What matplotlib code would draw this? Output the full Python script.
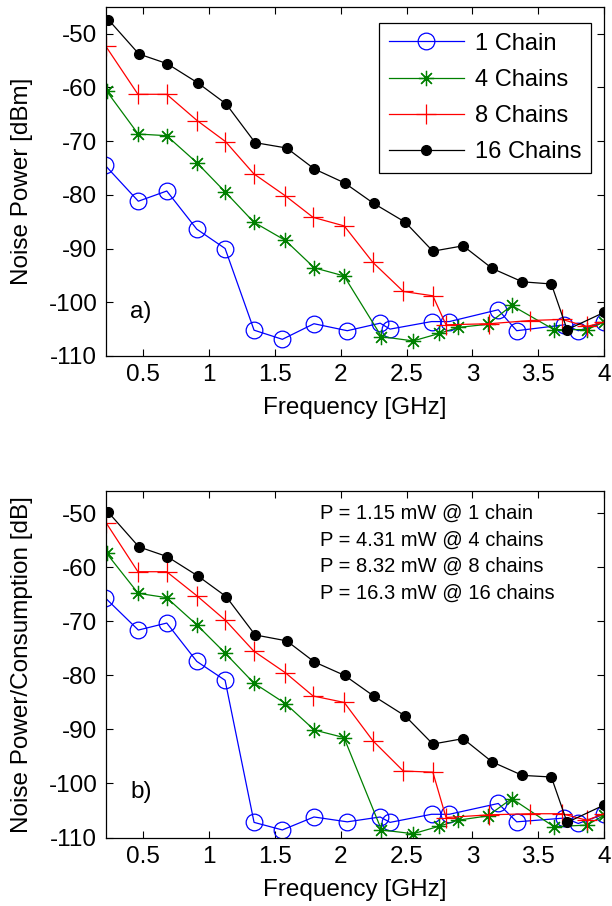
import matplotlib
matplotlib.use("Agg")
import matplotlib.pyplot as plt

plt.rcParams['font.family'] = ['Liberation Sans', 'DejaVu Sans']
plt.rcParams['axes.unicode_minus'] = False

# ---------------- data: top panel (Noise Power [dBm]) ----------------
x1_a = [0.21, 0.463, 0.679, 0.907, 1.122, 1.342, 1.557, 1.797, 2.05, 2.30, 2.375, 2.69, 2.825, 3.197, 3.337, 3.70, 3.805, 4.0]
y1_a = [-74.5, -81.2, -79.3, -86.4, -90.0, -105.2, -106.9, -104.0, -105.3, -103.9, -105.0, -103.6, -103.6, -101.4, -105.3, -104.2, -105.3, -103.7]

x4_a = [0.222, 0.462, 0.678, 0.906, 1.12, 1.34, 1.58, 1.80, 2.025, 2.31, 2.55, 2.75, 2.89, 3.117, 3.30, 3.62, 3.87, 4.0]
y4_a = [-60.7, -68.7, -69.0, -74.0, -79.4, -85.1, -88.5, -93.6, -95.1, -106.4, -107.2, -105.8, -104.7, -104.1, -100.6, -105.1, -105.1, -103.7]

x8_a = [0.217, 0.46, 0.678, 0.91, 1.125, 1.34, 1.58, 1.79, 2.027, 2.245, 2.476, 2.70, 2.80, 3.13, 3.44, 3.68, 3.87, 4.0]
y8_a = [-52.4, -61.3, -61.3, -66.2, -70.1, -76.1, -80.2, -84.2, -85.8, -92.6, -98.0, -98.8, -104.2, -104.0, -103.4, -103.2, -104.5, -103.7]

x16_a = [0.235, 0.467, 0.682, 0.916, 1.13, 1.35, 1.59, 1.80, 2.03, 2.25, 2.49, 2.70, 2.93, 3.15, 3.38, 3.60, 3.72, 4.0]
y16_a = [-47.4, -53.8, -55.6, -59.2, -63.1, -70.3, -71.3, -75.2, -77.8, -81.6, -85.1, -90.5, -89.5, -93.7, -96.2, -96.6, -105.1, -101.9]

# ---------------- data: bottom panel (Noise Power/Consumption [dB]) ----------------
y1_b = [-65.6, -71.6, -70.3, -77.4, -80.9, -107.2, -108.6, -106.2, -107.1, -106.2, -107.2, -105.7, -105.7, -103.7, -107.1, -106.4, -107.4, -105.7]
y4_b = [-57.4, -64.8, -65.6, -70.6, -75.8, -81.4, -85.2, -90.1, -91.5, -108.6, -109.3, -107.9, -106.8, -106.0, -102.8, -108.0, -107.7, -105.9]
y8_b = [-51.7, -60.8, -60.8, -65.3, -69.8, -75.5, -79.5, -83.8, -85.0, -92.1, -97.7, -97.9, -106.3, -105.8, -105.6, -105.6, -106.8, -105.6]
y16_b = [-49.8, -56.2, -58.0, -61.6, -65.4, -72.5, -73.6, -77.5, -80.0, -83.8, -87.5, -92.7, -91.7, -96.0, -98.5, -98.8, -107.2, -104.0]

labels = ['1 Chain', '4 Chains', '8 Chains', '16 Chains']
power_notes = ['P = 1.15 mW @ 1 chain', 'P = 4.31 mW @ 4 chains',
               'P = 8.32 mW @ 8 chains', 'P = 16.3 mW @ 16 chains']
xticks = [0.5, 1, 1.5, 2, 2.5, 3, 3.5, 4]
xticklabels = ['0.5', '1', '1.5', '2', '2.5', '3', '3.5', '4']
yticks = [-110, -100, -90, -80, -70, -60, -50]

FS = 17.5
fig = plt.figure(figsize=(6.12, 9.06), dpi=100)
ax1 = fig.add_axes([0.1727, 0.6071, 0.8142, 0.3855])
ax2 = fig.add_axes([0.1727, 0.0756, 0.8142, 0.3828])

styles = [
    dict(color='#0000ff', marker='o', ms=12, mfc='none', mec='#0000ff', mew=0.9),
    dict(color='#008000', marker=(8, 2, 0), ms=11, mec='#008000', mew=0.9),
    dict(color='#ff0000', marker='+', ms=15, mec='#ff0000', mew=0.9),
    dict(color='#000000', marker='o', ms=7, mfc='#000000', mec='#000000'),
]

xs = [x1_a, x4_a, x8_a, x16_a]
ya = [y1_a, y4_a, y8_a, y16_a]
yb = [y1_b, y4_b, y8_b, y16_b]

for x, y, st, lab in zip(xs, ya, styles, labels):
    ax1.plot(x, y, lw=0.9, label=lab, **st)
for x, y, st in zip(xs, yb, styles):
    ax2.plot(x, y, lw=0.9, **st)

for ax, ylim in ((ax1, (-110, -45)), (ax2, (-110, -45.8))):
    ax.set_xlim(0.215, 4.0)
    ax.set_ylim(*ylim)
    ax.set_xticks(xticks)
    ax.set_xticklabels(xticklabels)
    ax.set_yticks(yticks)
    ax.set_yticklabels([str(v) for v in yticks])
    ax.tick_params(direction='in', top=True, right=True, length=5, width=0.8,
                   labelsize=FS, pad=6)
    for s in ax.spines.values():
        s.set_linewidth(0.9)
    ax.set_xlabel('Frequency [GHz]', fontsize=FS, labelpad=8)

ax1.set_ylabel('Noise Power [dBm]', fontsize=FS)
ax2.set_ylabel('Noise Power/Consumption [dB]', fontsize=FS)
ax1.yaxis.set_label_coords(-0.145, 0.5)
ax2.yaxis.set_label_coords(-0.145, 0.5)

ax1.text(0.40, -101.8, 'a)', fontsize=FS, va='center', ha='left')
ax2.text(0.40, -101.6, 'b)', fontsize=FS, va='center', ha='left')

leg = ax1.legend(loc='upper right', bbox_to_anchor=(0.9745, 0.954), borderaxespad=0,
                 fontsize=17, handlelength=3.2, labelspacing=0.6, fancybox=False,
                 edgecolor='black', framealpha=1, borderpad=0.42, handletextpad=0.45)
leg.get_frame().set_linewidth(0.9)

for i, note in enumerate(power_notes):
    ax2.text(0.43, 0.935 - i * 0.077, note, transform=ax2.transAxes,
             fontsize=14.5, va='center', ha='left')

fig.savefig('out.png', dpi=100)
